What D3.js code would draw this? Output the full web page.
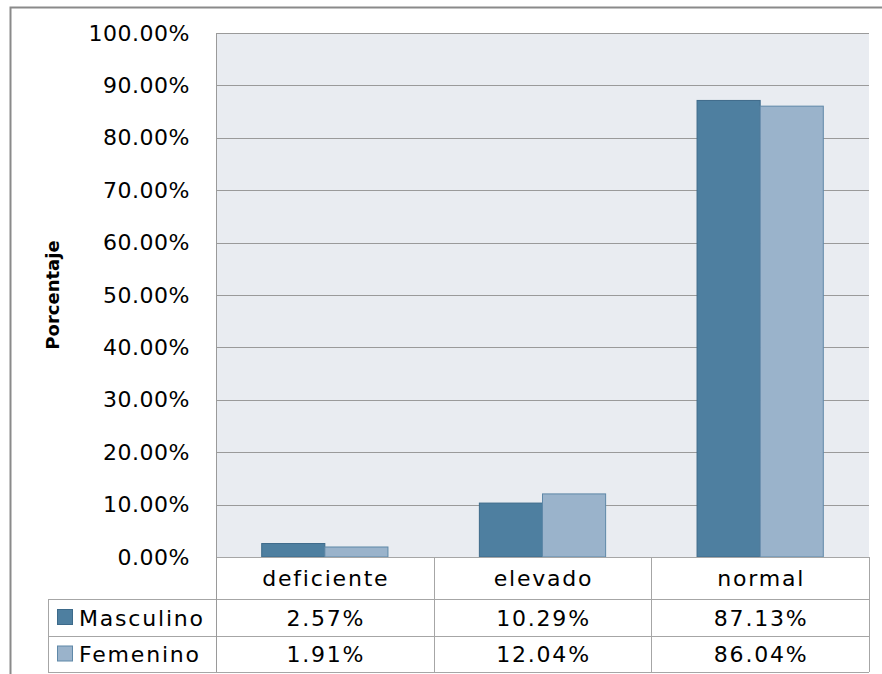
<!DOCTYPE html>
<html>
<head>
<meta charset="utf-8">
<script src="https://cdn.jsdelivr.net/npm/d3@7"></script>
<style>
  body { margin: 0; background: #fff; }
  svg text { font-family: "DejaVu Sans", sans-serif; fill: #000; }
</style>
</head>
<body>
<div id="chart"></div>
<script>
const categories = ['deficiente', 'elevado', 'normal'];
const seriesNames = ['Masculino', 'Femenino'];
const masculino = [2.57, 10.29, 87.13];
const femenino = [1.91, 12.04, 86.04];
const yTicks = [0, 10, 20, 30, 40, 50, 60, 70, 80, 90, 100];
const colors = {Masculino: '#4e7fa0', Femenino: '#9ab3cb'};
const strokes = {Masculino: '#3d6a8a', Femenino: '#5f88a8'};

const width = 882, height = 674;
const plot = {left: 216, right: 869, top: 33, bottom: 557};
const rowH = [42, 37, 36];
const tableLeft = 48;

const svg = d3.select('#chart').append('svg')
  .attr('width', width)
  .attr('height', height);

// outer frame
svg.append('path')
  .attr('d', `M10.5,${height}V7.5H${width}`)
  .attr('fill', 'none')
  .attr('stroke', '#8a8a8a')
  .attr('stroke-width', 2);

const x0 = d3.scaleBand()
  .domain(categories)
  .range([plot.left, plot.right]);

const gap = x0.bandwidth() * 0.21;
const x1 = d3.scaleBand()
  .domain(seriesNames)
  .range([gap, x0.bandwidth() - gap]);

const y = d3.scaleLinear()
  .domain([0, 100])
  .range([plot.bottom, plot.top]);

// plot background
svg.append('rect')
  .attr('x', plot.left)
  .attr('y', plot.top)
  .attr('width', plot.right - plot.left)
  .attr('height', plot.bottom - plot.top)
  .attr('fill', '#e9ecf1');

// gridlines
svg.append('g')
  .selectAll('line')
  .data(yTicks.filter(d => d > 0))
  .join('line')
    .attr('x1', plot.left)
    .attr('x2', plot.right)
    .attr('y1', d => Math.round(y(d)) + 0.5)
    .attr('y2', d => Math.round(y(d)) + 0.5)
    .attr('stroke', '#9a9a9a')
    .attr('stroke-width', 1);

// y axis
const yAxis = svg.append('g')
  .attr('transform', `translate(${plot.left},0)`)
  .call(d3.axisLeft(y).tickValues(yTicks).tickFormat(d => d.toFixed(2) + '%').tickSize(0).tickPadding(26));
yAxis.select('.domain').remove();
yAxis.selectAll('text')
  .style('font-size', '22px')
  .style('letter-spacing', '0.5px')
  .attr('fill', '#000');

svg.append('text')
  .attr('transform', `translate(59,${(plot.top + plot.bottom) / 2}) rotate(-90)`)
  .attr('text-anchor', 'middle')
  .style('font-size', '18px')
  .style('font-weight', 'bold')
  .text('Porcentaje');

// bars
const data = categories.map((c, i) => ({
  category: c,
  values: [
    {series: 'Masculino', value: masculino[i]},
    {series: 'Femenino', value: femenino[i]}
  ]
}));

svg.append('g')
  .selectAll('g')
  .data(data)
  .join('g')
    .attr('transform', d => `translate(${x0(d.category)},0)`)
  .selectAll('rect')
  .data(d => d.values)
  .join('rect')
    .attr('x', d => x1(d.series))
    .attr('y', d => y(d.value))
    .attr('width', x1.bandwidth())
    .attr('height', d => y(0) - y(d.value))
    .attr('fill', d => colors[d.series])
    .attr('stroke', d => strokes[d.series])
    .attr('stroke-width', 1);

// data table
const table = svg.append('g').attr('fill', 'none');
const lineColor = '#a6a6a6';
const rowY = [plot.bottom, plot.bottom + rowH[0], plot.bottom + rowH[0] + rowH[1], plot.bottom + rowH[0] + rowH[1] + rowH[2]];

table.append('line')
  .attr('x1', plot.left).attr('x2', plot.right)
  .attr('y1', rowY[0] + 0.5).attr('y2', rowY[0] + 0.5)
  .attr('stroke', lineColor);
rowY.slice(1).forEach(yy => {
  table.append('line')
    .attr('x1', tableLeft).attr('x2', plot.right)
    .attr('y1', yy + 0.5).attr('y2', yy + 0.5)
    .attr('stroke', lineColor);
});
table.append('line')
  .attr('x1', tableLeft + 0.5).attr('x2', tableLeft + 0.5)
  .attr('y1', rowY[1]).attr('y2', rowY[3])
  .attr('stroke', lineColor);
[plot.left, ...categories.map(c => x0(c) + x0.bandwidth())].forEach((xx, i) => {
  table.append('line')
    .attr('x1', Math.round(xx) + 0.5).attr('x2', Math.round(xx) + 0.5)
    .attr('y1', i === 0 ? plot.top : rowY[0]).attr('y2', rowY[3])
    .attr('stroke', i === 0 ? '#9a9a9a' : lineColor);
});

const cellText = sel => sel
  .style('font-size', '22px')
  .style('letter-spacing', '1.8px');

svg.append('g')
  .selectAll('text')
  .data(categories)
  .join('text')
    .attr('x', d => x0(d) + x0.bandwidth() / 2 + 1)
    .attr('y', rowY[0] + rowH[0] / 2 + 8)
    .attr('text-anchor', 'middle')
    .call(cellText)
    .text(d => d);

const rows = [masculino, femenino];
seriesNames.forEach((s, r) => {
  const cy = rowY[r + 1] + rowH[r + 1] / 2;
  svg.append('rect')
    .attr('x', 57.5).attr('y', cy - 8)
    .attr('width', 15).attr('height', 15)
    .attr('fill', colors[s])
    .attr('stroke', strokes[s]);
  svg.append('text')
    .attr('x', 79).attr('y', cy + 8)
    .call(cellText)
    .text(s);
  svg.append('g')
    .selectAll('text')
    .data(rows[r])
    .join('text')
      .attr('x', (d, i) => x0(categories[i]) + x0.bandwidth() / 2 + 1)
      .attr('y', cy + 8)
      .attr('text-anchor', 'middle')
      .call(cellText)
      .text(d => d.toFixed(2) + '%');
});
</script>
</body>
</html>
